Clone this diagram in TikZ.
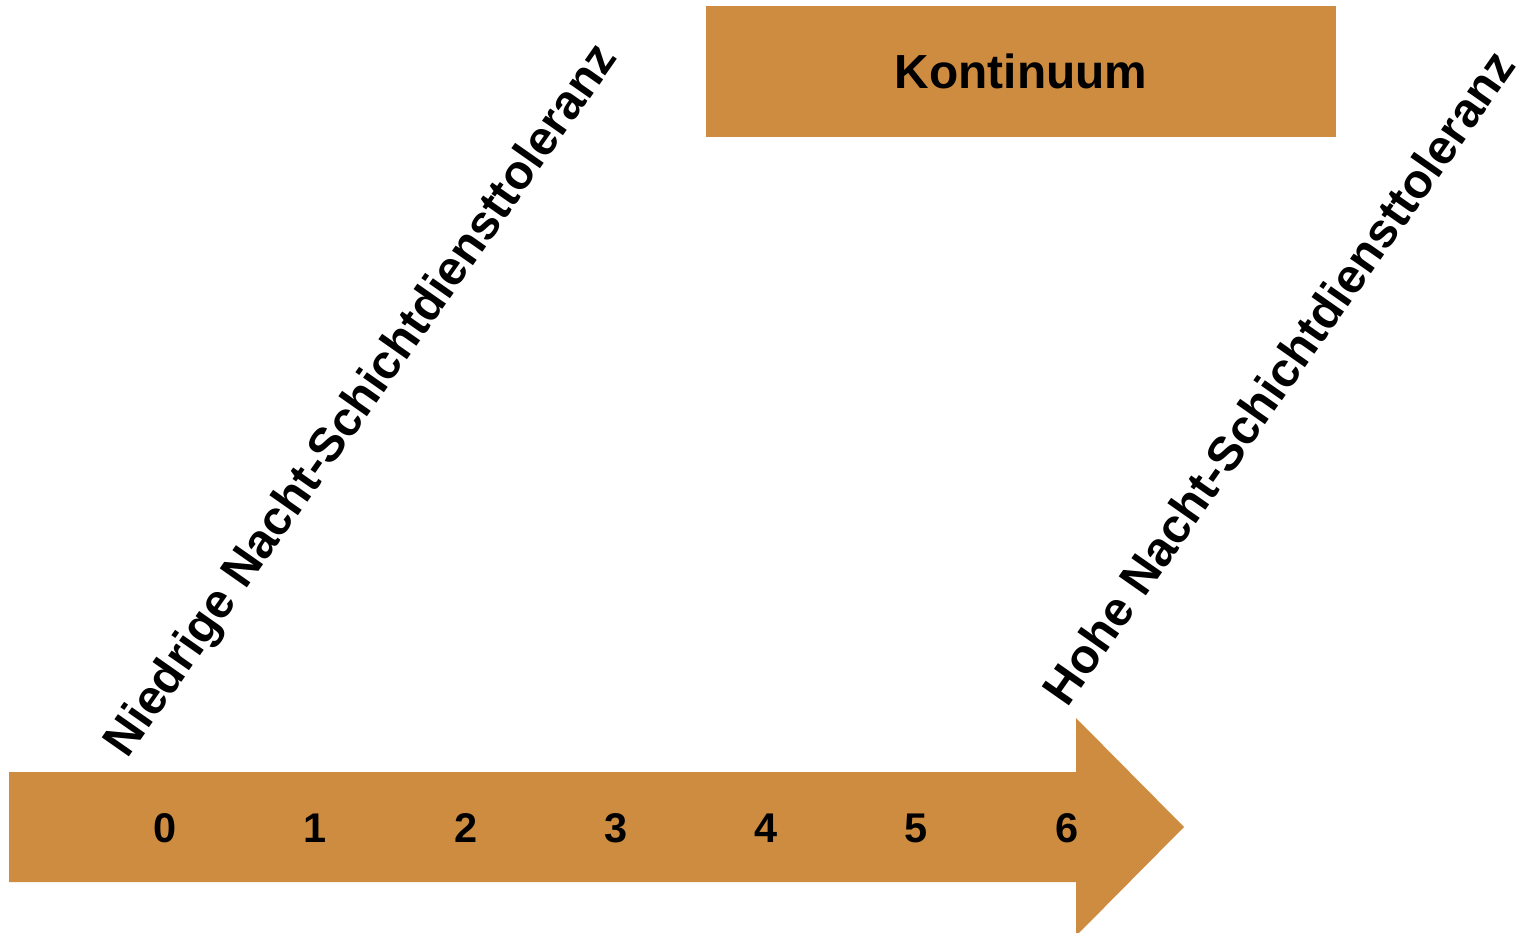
\documentclass[tikz,border=0pt]{standalone}
\usepackage{fontspec}
\setmainfont{Liberation Sans}
\definecolor{ocker}{RGB}{205,140,64}
\begin{document}
\begin{tikzpicture}[x=0.01cm, y=-0.01cm,
    zahl/.style={font=\fontsize{11.8}{14}\selectfont\bfseries, inner sep=0pt},
    schraeg/.style={font=\fontsize{13.7}{16}\selectfont\bfseries, rotate=55, anchor=base west, inner sep=0pt},
    kasten/.style={fill=ocker, minimum width=6.3cm, minimum height=1.31cm, inner sep=0pt,
        font=\fontsize{13.6}{16}\selectfont\bfseries}]
    \useasboundingbox (0,0) rectangle (1526,933);

    % Pfeil (Skala)
    \fill[ocker] (9,772) -- (1076,772) -- (1076,718) -- (1184,827)
        -- (1076,936) -- (1076,882) -- (9,882) -- cycle;

    % Skalenwerte
    \foreach \i in {0,...,6}
        \node[zahl] (z\i) at (165+150.3*\i,828) {\i};

    % Kasten oben
    \node[kasten] (kontinuum) at (1021,71.5) {Kontinuum};

    % Schraege Beschriftungen
    \node[schraeg] (niedrig) at (127,760) {Niedrige Nacht-Schichtdiensttoleranz};
    \node[schraeg] (hoch) at (1067,709) {Hohe Nacht-Schichtdiensttoleranz};
\end{tikzpicture}
\end{document}
